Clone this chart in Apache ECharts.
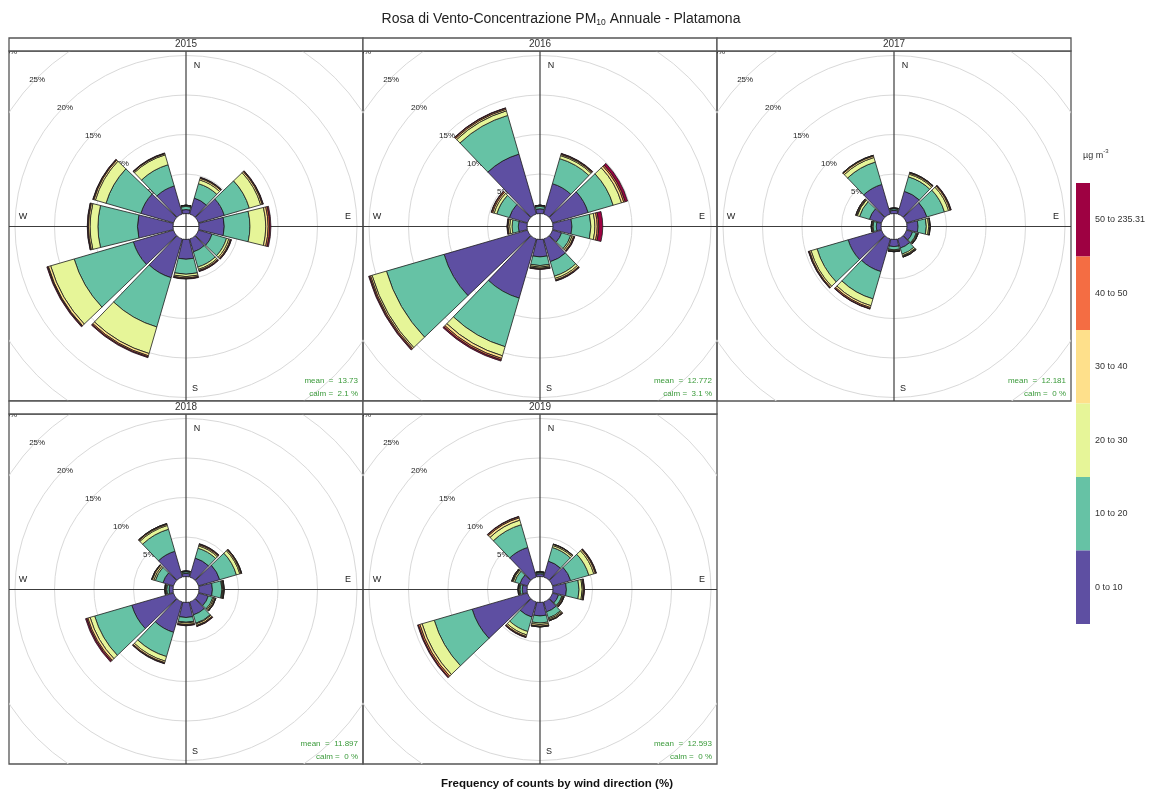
<!DOCTYPE html>
<html>
<head>
<meta charset="utf-8">
<script src="https://cdn.jsdelivr.net/npm/echarts@6/dist/echarts.min.js"></script>
<style>
  html, body { margin: 0; padding: 0; background: #ffffff; }
  #chart { width: 1159px; height: 793px; }
</style>
</head>
<body>
<div id="chart"></div>
<script>
// Wind sectors (degrees, clockwise from north), 30° wide
const DIRECTIONS = ['0', '30', '60', '90', '120', '150', '180', '210', '240', '270', '300', '330'];
const YEARS = ['2015', '2016', '2017', '2018', '2019'];
const BIN_LABELS = ['0 to 10', '10 to 20', '20 to 30', '30 to 40', '40 to 50', '50 to 235.31'];
const BIN_COLORS = ['#5E4FA2', '#66C2A5', '#E6F598', '#FEE08B', '#F46D43', '#9E0142'];
const MEAN_LABELS = ['13.73', '12.772', '12.181', '11.897', '12.593'];
const CALM_LABELS = ['2.1', '3.1', '0', '0', '0'];
const RING_PCTS = [5, 10, 15, 20, 25, 30];

// Frequency (%) per concentration bin (rows) and direction (columns)
const FREQ_2015 = [
  [0.5, 2.1, 3.4, 3.2, 1.8, 1.7, 2.5, 5.1, 5.3, 4.5, 4.3, 3.7],
  [0.4, 1.9, 3.3, 3.25, 1.9, 2.0, 1.9, 6.5, 7.8, 5.0, 4.6, 2.8],
  [0.1, 0.5, 1.5, 2.0, 0.3, 0.3, 0.3, 3.5, 3.1, 1.0, 1.4, 1.3],
  [0.05, 0.2, 0.2, 0.3, 0.2, 0.15, 0.15, 0.3, 0.3, 0.2, 0.2, 0.15],
  [0, 0.1, 0.1, 0.2, 0.1, 0.1, 0.1, 0.15, 0.1, 0.1, 0.1, 0.05],
  [0, 0.05, 0.05, 0.15, 0.05, 0.05, 0.05, 0.1, 0.1, 0.05, 0.05, 0.05]
];
const FREQ_2016 = [
  [0.6, 4.0, 4.7, 2.4, 1.2, 3.0, 2.2, 7.8, 11.0, 1.1, 2.4, 7.9],
  [0.3, 3.3, 3.3, 2.4, 1.2, 1.9, 1.1, 6.4, 7.6, 0.8, 1.65, 5.1],
  [0.1, 0.4, 1.1, 0.5, 0.2, 0.3, 0.2, 1.2, 1.9, 0.3, 0.35, 0.6],
  [0.05, 0.15, 0.3, 0.3, 0.2, 0.2, 0.15, 0.35, 0.2, 0.2, 0.2, 0.2],
  [0, 0.1, 0.2, 0.2, 0.1, 0.1, 0.1, 0.2, 0.15, 0.1, 0.15, 0.15],
  [0, 0.05, 0.3, 0.5, 0.05, 0.05, 0.05, 0.15, 0.1, 0.05, 0.05, 0.05]
];
const FREQ_2017 = [
  [0.4, 3.0, 2.7, 1.4, 0.8, 1.2, 0.9, 4.3, 4.4, 0.6, 1.6, 3.9],
  [0.2, 1.9, 2.3, 1.05, 0.5, 0.8, 0.4, 3.6, 4.1, 0.4, 1.3, 2.95],
  [0.05, 0.35, 0.55, 0.3, 0.1, 0.2, 0.1, 0.9, 0.8, 0.1, 0.3, 0.6],
  [0.05, 0.15, 0.2, 0.15, 0.1, 0.1, 0.1, 0.25, 0.2, 0.1, 0.1, 0.2],
  [0, 0.1, 0.1, 0.05, 0.05, 0.1, 0.05, 0.15, 0.1, 0.05, 0.1, 0.1],
  [0, 0, 0.05, 0, 0, 0, 0, 0.05, 0.05, 0, 0, 0]
];
const FREQ_2018 = [
  [0.4, 2.5, 2.8, 1.7, 1.3, 1.7, 1.9, 4.0, 5.5, 0.5, 1.4, 3.4],
  [0.2, 1.3, 2.2, 1.2, 0.6, 1.1, 0.6, 3.2, 4.9, 0.3, 1.0, 2.9],
  [0.05, 0.3, 0.45, 0.1, 0.15, 0.1, 0.1, 0.6, 0.6, 0.1, 0.2, 0.5],
  [0.05, 0.15, 0.15, 0.1, 0.15, 0.2, 0.2, 0.2, 0.3, 0.1, 0.2, 0.15],
  [0, 0.1, 0.1, 0.1, 0.1, 0.1, 0.1, 0.1, 0.15, 0.05, 0.1, 0.1],
  [0, 0.05, 0, 0, 0, 0.05, 0.05, 0.05, 0.15, 0, 0, 0]
];
const FREQ_2019 = [
  [0.35, 2.1, 2.4, 1.7, 0.8, 1.3, 1.7, 2.0, 7.3, 0.6, 1.0, 3.9],
  [0.15, 1.8, 2.4, 1.6, 0.45, 0.8, 0.9, 1.9, 5.0, 0.3, 0.7, 3.0],
  [0.05, 0.25, 0.65, 0.4, 0.1, 0.15, 0.2, 0.45, 1.6, 0.1, 0.2, 0.6],
  [0.05, 0.15, 0.2, 0.15, 0.1, 0.15, 0.2, 0.2, 0.3, 0.1, 0.1, 0.3],
  [0, 0.05, 0.1, 0.1, 0.1, 0.1, 0.1, 0.1, 0.2, 0.05, 0.1, 0.15],
  [0, 0, 0.05, 0.05, 0, 0, 0, 0.05, 0.1, 0, 0, 0.05]
];
const FREQ_BY_YEAR = [FREQ_2015, FREQ_2016, FREQ_2017, FREQ_2018, FREQ_2019];

// ---- layout ----
const FONT = '"Liberation Sans", Arial, sans-serif';
const PANEL_W = 354;
const COL_X = [9, 363, 717];
const ROW_Y = [38, 401];
const STRIP_H = 13;
const ROW_H = 363;
const PX_PER_PCT = 7.9;          // radial scale
const HOLE_PX = 13;              // inner offset of the rose
const OFF = HOLE_PX / PX_PER_PCT; // offset in % units
const R_MAX = 30;
const FRAME = '#555555';

function panelBox(p) {
  const col = p % 3, row = Math.floor(p / 3);
  const left = COL_X[col];
  const stripTop = ROW_Y[row];
  const plotTop = stripTop + STRIP_H;
  const plotBottom = stripTop + ROW_H;
  return {
    left, right: left + PANEL_W, stripTop, plotTop, plotBottom,
    cx: left + PANEL_W / 2, cy: (plotTop + plotBottom) / 2 + 0.5
  };
}

const grids = [], xAxes = [], yAxes = [], polars = [], angleAxes = [], radiusAxes = [];
const series = [];
const graphics = [];

function txt(text, x, y, opts) {
  return {
    type: 'text', z: 20, silent: true,
    style: Object.assign({
      text, x, y, fill: '#222', font: '9px ' + FONT,
      align: 'center', verticalAlign: 'middle',
      textAlign: 'center', textVerticalAlign: 'middle'
    }, opts || {})
  };
}

YEARS.forEach((year, p) => {
  const b = panelBox(p);
  grids.push({
    left: b.left, top: b.plotTop, width: PANEL_W, height: b.plotBottom - b.plotTop,
    show: true, borderColor: FRAME, borderWidth: 1.3, backgroundColor: 'transparent'
  });
  xAxes.push({
    gridIndex: p, type: 'value', show: false,
    min: (b.left - b.cx) / PX_PER_PCT, max: (b.right - b.cx) / PX_PER_PCT
  });
  yAxes.push({
    gridIndex: p, type: 'value', show: false,
    min: (b.cy - b.plotBottom) / PX_PER_PCT, max: (b.cy - b.plotTop) / PX_PER_PCT
  });
  polars.push({ center: [b.cx, b.cy], radius: [0, PX_PER_PCT * (R_MAX + OFF)] });
  angleAxes.push({
    polarIndex: p, type: 'category', data: DIRECTIONS, startAngle: 105, clockwise: true,
    boundaryGap: true, axisLine: { show: false }, axisTick: { show: false },
    axisLabel: { show: false }, splitLine: { show: false }, splitArea: { show: false }
  });
  radiusAxes.push({
    polarIndex: p, type: 'value', min: -OFF, max: R_MAX,
    axisLine: { show: false }, axisTick: { show: false },
    axisLabel: { show: false }, splitLine: { show: false }, splitArea: { show: false }
  });

  // rings, cross axes and direction / percentage labels, clipped to the panel
  series.push({
    type: 'custom', coordinateSystem: 'cartesian2d', xAxisIndex: p, yAxisIndex: p,
    clip: true, silent: true, z: 1, data: [[0, 0]],
    renderItem: function (params, api) {
      const c = api.coord([0, 0]);
      const cs = params.coordSys;
      const children = [];
      RING_PCTS.forEach(pct => {
        const r = api.size([pct + OFF, 0])[0];
        children.push({
          type: 'circle', shape: { cx: c[0], cy: c[1], r },
          style: { fill: 'none', stroke: '#d9d9d9', lineWidth: 1 }
        });
      });
      children.push({
        type: 'line', shape: { x1: c[0], y1: cs.y, x2: c[0], y2: cs.y + cs.height },
        style: { stroke: '#3c3c3c', lineWidth: 1.2 }
      });
      children.push({
        type: 'line', shape: { x1: cs.x, y1: c[1], x2: cs.x + cs.width, y2: c[1] },
        style: { stroke: '#3c3c3c', lineWidth: 1.2 }
      });
      RING_PCTS.forEach(pct => {
        const r = api.size([pct + OFF, 0])[0];
        children.push({
          type: 'text',
          style: {
            text: pct + '%', x: c[0] - r * Math.SQRT1_2, y: c[1] - r * Math.SQRT1_2 + 2,
            fill: '#222', font: '8px ' + FONT,
            align: 'center', verticalAlign: 'middle'
          }
        });
      });
      const compass = [['N', 11, -161], ['E', 162, -10], ['S', 9, 162], ['W', -163, -10]];
      compass.forEach(([t, dx, dy]) => {
        children.push({
          type: 'text',
          style: {
            text: t, x: c[0] + dx, y: c[1] + dy, fill: '#222', font: '9px ' + FONT,
            align: 'center', verticalAlign: 'middle'
          }
        });
      });
      return { type: 'group', children };
    }
  });

  // stacked concentration bins
  BIN_LABELS.forEach((name, k) => {
    series.push({
      type: 'bar', name, coordinateSystem: 'polar', polarIndex: p,
      stack: 'rose' + p, data: FREQ_BY_YEAR[p][k], barCategoryGap: '8%',
      silent: true, z: 3,
      itemStyle: { color: BIN_COLORS[k], borderColor: '#1c1c1c', borderWidth: 0.8 }
    });
  });

  // strip with the year
  graphics.push({
    type: 'rect', z: 15, silent: true,
    shape: { x: b.left, y: b.stripTop, width: PANEL_W, height: STRIP_H },
    style: { fill: '#ffffff', stroke: FRAME, lineWidth: 1.3 }
  });
  graphics.push(txt(year, b.cx, b.stripTop + STRIP_H / 2, { font: '10px ' + FONT, fill: '#333' }));

  // mean and calm annotation
  const green = '#3a9a3a';
  graphics.push(txt('mean  =  ' + MEAN_LABELS[p], b.right - 5, b.plotBottom - 20,
    { font: '8px ' + FONT, fill: green, align: 'right', textAlign: 'right' }));
  graphics.push(txt('calm =  ' + CALM_LABELS[p] + ' %', b.right - 5, b.plotBottom - 7,
    { font: '8px ' + FONT, fill: green, align: 'right', textAlign: 'right' }));
});

// title and axis caption
graphics.push({
  type: 'text', z: 20, silent: true,
  style: {
    text: '{a|Rosa di Vento-Concentrazione PM}{s|10}{a| Annuale - Platamona}',
    x: 561, y: 19, align: 'center', verticalAlign: 'middle',
    textAlign: 'center', textVerticalAlign: 'middle',
    rich: {
      a: { fontSize: 14, fontFamily: FONT, fill: '#222', color: '#222', lineHeight: 17, verticalAlign: 'middle' },
      s: { fontSize: 8.5, fontFamily: FONT, fill: '#222', color: '#222', lineHeight: 5, verticalAlign: 'bottom' }
    }
  }
});
graphics.push(txt('Frequency of counts by wind direction (%)', 557, 784,
  { font: 'bold 11.5px ' + FONT, fill: '#111' }));

// colour key
const KEY_X = 1076, KEY_TOP = 183, KEY_W = 14, KEY_SEG = 73.5;
for (let k = 0; k < BIN_LABELS.length; k++) {
  const idx = BIN_LABELS.length - 1 - k;
  const y = KEY_TOP + k * KEY_SEG;
  graphics.push({
    type: 'rect', z: 15, silent: true,
    shape: { x: KEY_X, y, width: KEY_W, height: KEY_SEG },
    style: { fill: BIN_COLORS[idx], stroke: null }
  });
  graphics.push(txt(BIN_LABELS[idx], 1095, y + KEY_SEG / 2,
    { font: '9px ' + FONT, fill: '#333', align: 'left', textAlign: 'left' }));
}
graphics.push({
  type: 'text', z: 20, silent: true,
  style: {
    text: '{a|µg m}{p|-3}', x: 1083, y: 154, align: 'left', verticalAlign: 'middle',
    textAlign: 'left', textVerticalAlign: 'middle',
    rich: {
      a: { fontSize: 9, fontFamily: FONT, fill: '#333', color: '#333', lineHeight: 12, verticalAlign: 'bottom' },
      p: { fontSize: 6, fontFamily: FONT, fill: '#333', color: '#333', lineHeight: 12, verticalAlign: 'top' }
    }
  }
});

const chart = echarts.init(document.getElementById('chart'), null, { renderer: 'canvas' });
chart.setOption({
  animation: false,
  backgroundColor: '#ffffff',
  grid: grids,
  xAxis: xAxes,
  yAxis: yAxes,
  polar: polars,
  angleAxis: angleAxes,
  radiusAxis: radiusAxes,
  series,
  graphic: { elements: graphics }
});
</script>
</body>
</html>
